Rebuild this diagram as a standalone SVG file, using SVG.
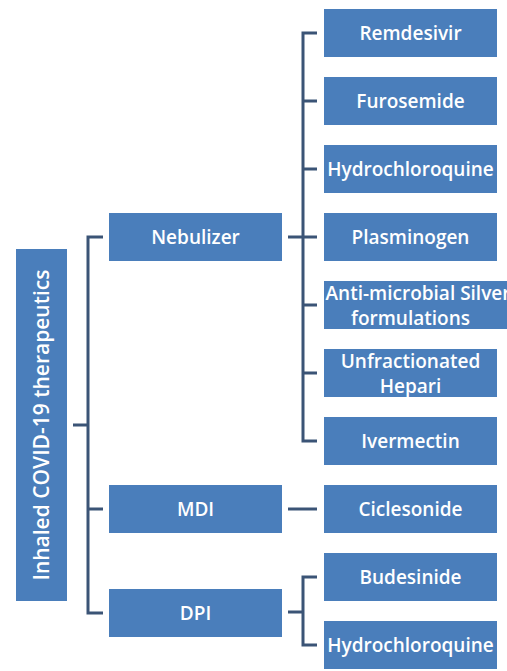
<svg xmlns="http://www.w3.org/2000/svg" width="507" height="671" viewBox="0 0 507 671">
<style>
.box{fill:#4a7ebb;}
.t{fill:#ffffff;font-family:"Open Sans","Liberation Sans",sans-serif;font-size:19px;font-weight:600;text-anchor:middle;dominant-baseline:central;}
.root{font-size:21px;}
.c{stroke:#3b5476;stroke-width:3;fill:none;}
</style>
<rect width="507" height="671" fill="#ffffff"/>
<g id="connectors">
<path class="c" d="M73,425 H88 M103,237 H88 V613 H103 M88,509 H103"/>
<path class="c" d="M288,237 H303 M317,33 H303 V441 H317 M303,101 H317 M303,169 H317 M303,237 H317 M303,305 H317 M303,373 H317"/>
<path class="c" d="M288,509 H317"/>
<path class="c" d="M288,612 H303 M317,577 H303 V645 H317"/>
</g>
<g id="root"><rect class="box" x="16" y="249" width="51" height="352"/><text class="t root" transform="translate(41,425) rotate(-90)">Inhaled COVID-19 therapeutics</text></g>
<g id="nebulizer"><rect class="box" x="109" y="213" width="173" height="48"/><text class="t" x="195.5" y="237">Nebulizer</text></g>
<g id="mdi"><rect class="box" x="109" y="485" width="173" height="48"/><text class="t" x="195.5" y="509">MDI</text></g>
<g id="dpi"><rect class="box" x="109" y="589" width="173" height="48"/><text class="t" x="195.5" y="613">DPI</text></g>
<g id="remdesivir"><rect class="box" x="324" y="9" width="173" height="48"/><text class="t" x="410.5" y="33">Remdesivir</text></g>
<g id="furosemide"><rect class="box" x="324" y="77" width="173" height="48"/><text class="t" x="410.5" y="101">Furosemide</text></g>
<g id="hydrochloroquine1"><rect class="box" x="324" y="145" width="173" height="48"/><text class="t" x="410.5" y="169">Hydrochloroquine</text></g>
<g id="plasminogen"><rect class="box" x="324" y="213" width="173" height="48"/><text class="t" x="410.5" y="237">Plasminogen</text></g>
<g id="silver"><rect class="box" x="324" y="281" width="183" height="48"/><text class="t" x="418" y="293">Anti-microbial Silver</text><text class="t" x="410.5" y="318">formulations</text></g>
<g id="heparin"><rect class="box" x="324" y="349" width="173" height="48"/><text class="t" x="410.5" y="361">Unfractionated</text><text class="t" x="410.5" y="386">Hepari</text></g>
<g id="ivermectin"><rect class="box" x="324" y="417" width="173" height="48"/><text class="t" x="410.5" y="441">Ivermectin</text></g>
<g id="ciclesonide"><rect class="box" x="324" y="485" width="173" height="48"/><text class="t" x="410.5" y="509">Ciclesonide</text></g>
<g id="budesinide"><rect class="box" x="324" y="553" width="173" height="48"/><text class="t" x="410.5" y="577">Budesinide</text></g>
<g id="hydrochloroquine2"><rect class="box" x="324" y="621" width="173" height="48"/><text class="t" x="410.5" y="645">Hydrochloroquine</text></g>
</svg>
